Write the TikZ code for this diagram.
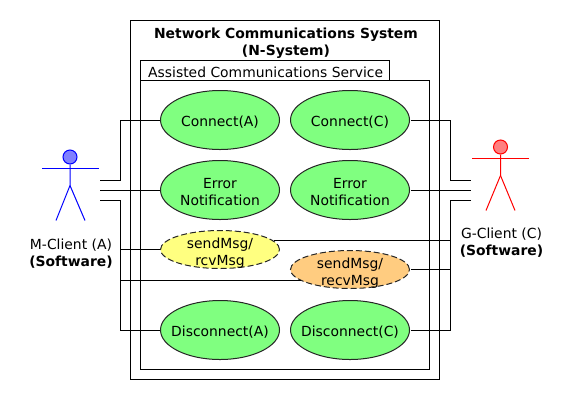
\documentclass[tikz,border=0pt]{standalone}
\usepackage{fontspec}
\setmainfont{DejaVu Sans}
\usetikzlibrary{shapes.geometric,calc}
\definecolor{ucgreen}{HTML}{80FF80}
\definecolor{ucyellow}{HTML}{FFFF80}
\definecolor{ucorange}{HTML}{FFCC80}
\definecolor{headblue}{HTML}{8080FF}
\definecolor{headred}{HTML}{FF8080}
\definecolor{lineblue}{HTML}{0000FF}
\definecolor{linered}{HTML}{FF0000}
\newcommand{\lowered}[2]{\raisebox{-#1}[\height][\depth]{#2}}
\tikzset{
  usecase/.style={ellipse,draw=black!85,line width=1pt,minimum width=119pt,minimum height=59pt,inner sep=-15pt,align=center,font=\fontsize{13.9}{17}\selectfont},
  smallcase/.style={usecase,minimum height=38pt,dash pattern=on 6pt off 3pt},
  boxline/.style={draw=black,line width=1pt},
  conn/.style={draw=black,line width=1pt},
  lbl/.style={inner sep=0pt,align=center,font=\fontsize{13.9}{17}\selectfont},
  titlelbl/.style={lbl,font=\fontsize{13.9}{17}\selectfont\bfseries},
  head/.style={circle,line width=1pt,minimum size=14pt,inner sep=0pt},
  limb/.style={line width=1pt}
}
\begin{document}
\begin{tikzpicture}[x=1pt,y=-1pt]
\useasboundingbox[fill=white] (0,0) rectangle (580,400);
% boxes
\draw[boxline] (130.5,20.5) rectangle (439.5,379.5);
\draw[boxline] (140.5,80.5) |- (389.5,60.5) -- (389.5,80.5);
\draw[boxline] (140.5,80.5) rectangle (429.5,369.5);
\node[titlelbl] (title) at (286,43) {Network Communications System\\(N-System)};
\node[lbl,anchor=west] (service) at (148,72.5) {Assisted Communications Service};
% use cases
\node[usecase,fill=ucgreen] (ca) at (220,120) {\lowered{2.5pt}{Connect(A)}};
\node[usecase,fill=ucgreen] (cc) at (350,120) {\lowered{2.5pt}{Connect(C)}};
\node[usecase,fill=ucgreen] (ea) at (220,190) {\lowered{2pt}{Error}\\\lowered{2pt}{Notification}};
\node[usecase,fill=ucgreen] (ec) at (350,190) {\lowered{2pt}{Error}\\\lowered{2pt}{Notification}};
\node[smallcase,fill=ucyellow] (sy) at (220,249.5) {\lowered{4pt}{sendMsg/}\\\lowered{4pt}{rcvMsg}};
\node[smallcase,fill=ucorange] (so) at (350,269.5) {\lowered{4pt}{sendMsg/}\\\lowered{4pt}{recvMsg}};
\node[usecase,fill=ucgreen] (da) at (220,330) {\lowered{2.5pt}{Disconnect(A)}};
\node[usecase,fill=ucgreen] (dc) at (350,330) {\lowered{2.5pt}{Disconnect(C)}};
% actor A
\node[head,draw=lineblue,fill=headblue] (ha) at (70,157) {};
\coordinate (ana) at (70,185.5);
\coordinate (aal) at (42,168.5);
\coordinate (aar) at (99,168.5);
\coordinate (ala) at (56,220.5);
\coordinate (ara) at (85,220.5);
\draw[limb,lineblue] (ha.south) -- (ana) -- (ala);
\draw[limb,lineblue] (ana) -- (ara);
\draw[limb,lineblue] (aal) -- (aar);
\node[lbl] (la) at (71,253.5) {M-Client (A)\\\textbf{(Software)}};
% actor C
\node[head,draw=linered,fill=headred] (hc) at (500.5,147) {};
\coordinate (cna) at (500.5,175.5);
\coordinate (cal) at (472,158.5);
\coordinate (car) at (529,158.5);
\coordinate (clc) at (486,210.5);
\coordinate (crc) at (515,210.5);
\draw[limb,linered] (hc.south) -- (cna) -- (clc);
\draw[limb,linered] (cna) -- (crc);
\draw[limb,linered] (cal) -- (car);
\node[lbl] (lc) at (501.5,243) {G-Client (C)\\\textbf{(Software)}};
% connector ends
\coordinate (a1) at (100,180.5);
\coordinate (a2) at (100,190.5);
\coordinate (a3) at (100,200.5);
\coordinate (c1) at (471,180.5);
\coordinate (c2) at (471,190.5);
\coordinate (c3) at (471,200.5);
\coordinate (jl) at (120.5,200.5);
\coordinate (jr) at (450.5,200.5);
\coordinate (jlo) at (120.5,280.5);
\coordinate (jry) at (450.5,240.5);
% left connectors
\draw[conn] (a1) -| (jl |- ca.west) -- (ca.west);
\draw[conn] (a2) -- (a2 -| ea.west);
\draw[conn] (a3) -- (jl) |- (da.west);
\draw[conn] (jl |- sy.west) -- (sy.west);
\draw[conn] (jlo) -- (so.193.6 |- jlo);
% right connectors
\draw[conn,shorten <=1pt] (cc.east) -| (jr |- c1) -- (c1);
\draw[conn,shorten <=1pt] (c2 -| ec.east) -- (c2);
\draw[conn] (c3) -- (jr) |- ([xshift=1pt]dc.east);
\draw[conn] (jry) -- (sy.9 |- jry);
\draw[conn] (jr |- so.east) -- ([xshift=1pt]so.east);
\end{tikzpicture}
\end{document}
